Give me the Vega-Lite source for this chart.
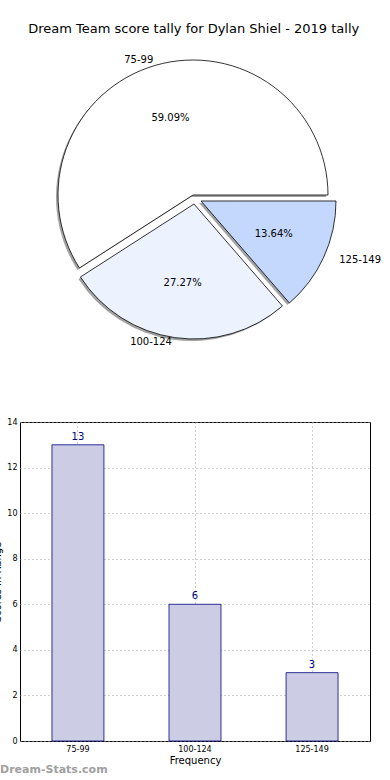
{
  "$schema": "https://vega.github.io/schema/vega-lite/v6.json",
  "padding": {"left": -8, "top": 23, "right": 0, "bottom": 0},
  "bounds": "flush",
  "spacing": 81,
  "title": {"text": "Dream Team score tally for Dylan Shiel - 2019 tally", "fontSize": 13, "fontWeight": "normal", "font": "DejaVu Sans", "color": "#000000", "anchor": "middle", "offset": 13, "dx": 7},
  "config": {
    "font": "DejaVu Sans",
    "view": {"stroke": null},
    "axis": {"labelColor": "#000000", "titleColor": "#000000", "domainColor": "#000000", "tickColor": "#000000", "labelFont": "DejaVu Sans", "titleFont": "DejaVu Sans", "titleFontWeight": "normal"}
  },
  "data": {"values": [
    {"range": "75-99", "count": 13, "pct": "59.09%"},
    {"range": "100-124", "count": 6, "pct": "27.27%"},
    {"range": "125-149", "count": 3, "pct": "13.64%"}
  ]},
  "vconcat": [
    {
      "width": 350,
      "height": 292,
      "encoding": {
        "theta": {"field": "count", "type": "quantitative", "stack": true, "scale": {"range": [1.5708, -4.7124], "nice": false, "zero": true}},
        "order": {"field": "count", "type": "quantitative", "sort": "descending"}
      },
      "layer": [
        {"mark": {"type": "arc", "radius": 135, "xOffset": -4, "yOffset": 2, "fill": "#a3a3a3"},
         "encoding": {"opacity": {"condition": {"test": "datum.range==='75-99'", "value": 1}, "value": 0}}},
        {"mark": {"type": "arc", "radius": 135, "xOffset": -3, "yOffset": 11, "fill": "#a3a3a3"},
         "encoding": {"opacity": {"condition": {"test": "datum.range==='100-124'", "value": 1}, "value": 0}}},
        {"mark": {"type": "arc", "radius": 135, "xOffset": 4, "yOffset": 8, "fill": "#a3a3a3"},
         "encoding": {"opacity": {"condition": {"test": "datum.range==='125-149'", "value": 1}, "value": 0}}},
        {"mark": {"type": "arc", "radius": 135, "xOffset": -2, "yOffset": 0, "fill": "#ffffff", "stroke": "#000000", "strokeWidth": 0.8},
         "encoding": {"opacity": {"condition": {"test": "datum.range==='75-99'", "value": 1}, "value": 0}}},
        {"mark": {"type": "arc", "radius": 135, "xOffset": -1, "yOffset": 9, "fill": "#ecf2fe", "stroke": "#000000", "strokeWidth": 0.8},
         "encoding": {"opacity": {"condition": {"test": "datum.range==='100-124'", "value": 1}, "value": 0}}},
        {"mark": {"type": "arc", "radius": 135, "xOffset": 6, "yOffset": 6, "fill": "#c4d8fe", "stroke": "#000000", "strokeWidth": 0.8},
         "encoding": {"opacity": {"condition": {"test": "datum.range==='125-149'", "value": 1}, "value": 0}}},
        {"mark": {"type": "text", "radius": 80, "xOffset": -2, "yOffset": 0, "fontSize": 10, "color": "#000000"},
         "encoding": {"text": {"condition": {"test": "datum.range==='75-99'", "field": "pct", "type": "nominal"}, "value": ""}}},
        {"mark": {"type": "text", "radius": 80, "xOffset": -1, "yOffset": 9, "fontSize": 10, "color": "#000000"},
         "encoding": {"text": {"condition": {"test": "datum.range==='100-124'", "field": "pct", "type": "nominal"}, "value": ""}}},
        {"mark": {"type": "text", "radius": 80, "xOffset": 6, "yOffset": 6, "fontSize": 10, "color": "#000000"},
         "encoding": {"text": {"condition": {"test": "datum.range==='125-149'", "field": "pct", "type": "nominal"}, "value": ""}}},
        {"mark": {"type": "text", "radius": 141, "xOffset": -2, "yOffset": 0, "fontSize": 10, "align": "right", "color": "#000000"},
         "encoding": {"text": {"condition": {"test": "datum.range==='75-99'", "field": "range", "type": "nominal"}, "value": ""}}},
        {"mark": {"type": "text", "radius": 141, "xOffset": -3, "yOffset": 7, "fontSize": 10, "align": "right", "color": "#000000"},
         "encoding": {"text": {"condition": {"test": "datum.range==='100-124'", "field": "range", "type": "nominal"}, "value": ""}}},
        {"mark": {"type": "text", "radius": 141, "xOffset": 16, "yOffset": 6, "fontSize": 10, "align": "left", "color": "#000000"},
         "encoding": {"text": {"condition": {"test": "datum.range==='125-149'", "field": "range", "type": "nominal"}, "value": ""}}}
      ]
    },
    {
      "width": 350,
      "height": 319,
      "view": {"stroke": "#000000", "strokeWidth": 1},
      "title": {"text": "Dream-Stats.com", "orient": "bottom", "anchor": "start", "frame": "group", "dx": -20, "offset": -1, "fontSize": 11, "fontWeight": "bold", "color": "#a0a0a0", "font": "DejaVu Sans"},
      "encoding": {
        "x": {"field": "range", "type": "nominal", "sort": null,
              "scale": {"paddingInner": 0.556, "paddingOuter": 0.273},
              "axis": {"title": "Frequency", "titleFontSize": 10, "titlePadding": 2, "labelAngle": 0, "labelFontSize": 8, "tickSize": 0, "labelPadding": 4, "grid": true, "bandPosition": 0.5, "gridDash": [1, 3], "gridColor": "#a0a0a0", "domain": false}},
        "y": {"field": "count", "type": "quantitative",
              "scale": {"domain": [0, 14], "nice": false},
              "axis": {"title": "Scores In Range", "titleFontSize": 10, "titlePadding": 4, "values": [0, 2, 4, 6, 8, 10, 12, 14], "labelFontSize": 8, "tickSize": 0, "labelPadding": 3, "grid": true, "gridDash": [1, 3], "gridColor": "#a0a0a0", "domain": false}}
      },
      "layer": [
        {"mark": {"type": "bar", "fill": "#ccccE5", "stroke": "#000080", "strokeWidth": 0.8}},
        {"mark": {"type": "text", "dy": -8, "fontSize": 10, "color": "#000080"},
         "encoding": {"text": {"field": "count", "type": "quantitative"}}}
      ]
    }
  ]
}
